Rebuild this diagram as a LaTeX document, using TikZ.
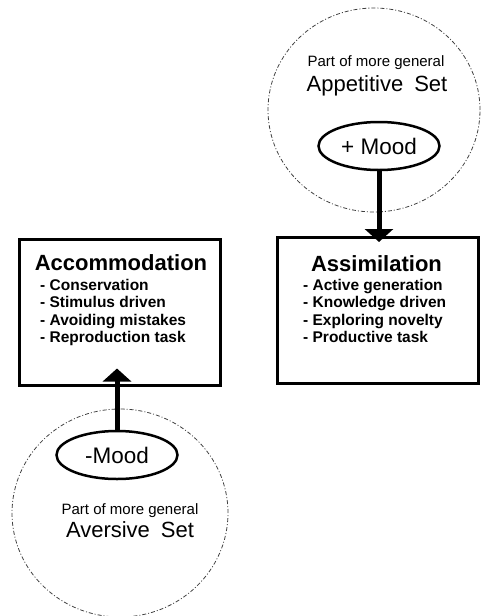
\documentclass[tikz,border=0pt]{standalone}
\usepackage{fontspec}
\setmainfont{Liberation Sans}
\usetikzlibrary{shapes.geometric,positioning,calc,arrows.meta}

\begin{document}
\begin{tikzpicture}[x=1pt, y=-1pt,
    setcircle/.style={ellipse, draw=black!75, line width=0.8pt, dash pattern=on 4pt off 2pt on 1pt off 2pt, inner sep=0pt},
    setbox/.style={rectangle, draw, line width=3pt, minimum width=201pt, minimum height=146pt},
    mood/.style={ellipse, draw, line width=2.5pt, minimum width=121pt, minimum height=48pt, inner sep=0pt, font=\fontsize{22.5}{26}\selectfont},
    boxtitle/.style={anchor=base, font=\bfseries\fontsize{22}{26}\selectfont},
    boxlist/.style={anchor=north west, align=left, inner sep=0pt, font=\bfseries\fontsize{15.5}{17.5}\selectfont},
    smalltxt/.style={anchor=base, font=\fontsize{15}{17}\selectfont},
    bigtxt/.style={anchor=base, font=\fontsize{22}{26}\selectfont},
    moodarrow/.style={line width=5pt, -{Triangle[width=28pt,length=13pt]}}]
    \useasboundingbox (0,0) rectangle (480,616);

    % the two sets
    \node[setcircle, minimum width=212pt, minimum height=204pt] (appset) at (374,110) {};
    \node[setcircle, minimum width=216pt, minimum height=208pt] (averset) at (120,513) {};
    \node[smalltxt] (apppart) at (376,66) {Part of more general};
    \node[bigtxt] (appname) at (377,91) {Appetitive\hspace{0.5em}Set};
    \node[smalltxt] (averpart) at (130,514) {Part of more general};
    \node[bigtxt] (avername) at (130,537) {Aversive\hspace{0.5em}Set};

    \node[mood] (posmood) at (379,146) {+ Mood};
    \node[mood] (negmood) at (117,455) {-Mood};

    % the two boxes
    \node[setbox] (accom) at (119.5,312) {};
    \node[boxtitle] (accomtitle) at (121,270) {Accommodation};
    \node[boxlist] (accomlist) at (40,279) {- Conservation\\- Stimulus driven\\- Avoiding mistakes\\- Reproduction task};

    \node[setbox] (assim) at (377.5,310.5) {};
    \node[boxtitle] (assimtitle) at (376.5,271) {Assimilation};
    \node[boxlist] (assimlist) at (303,279) {- Active generation\\- Knowledge driven\\- Exploring novelty\\- Productive task};

    \draw[moodarrow] (posmood.south) -- ([yshift=-6pt]posmood |- assim.north);
    \draw[moodarrow] (negmood.north) -- ([yshift=18pt]negmood |- accom.south);
\end{tikzpicture}
\end{document}
